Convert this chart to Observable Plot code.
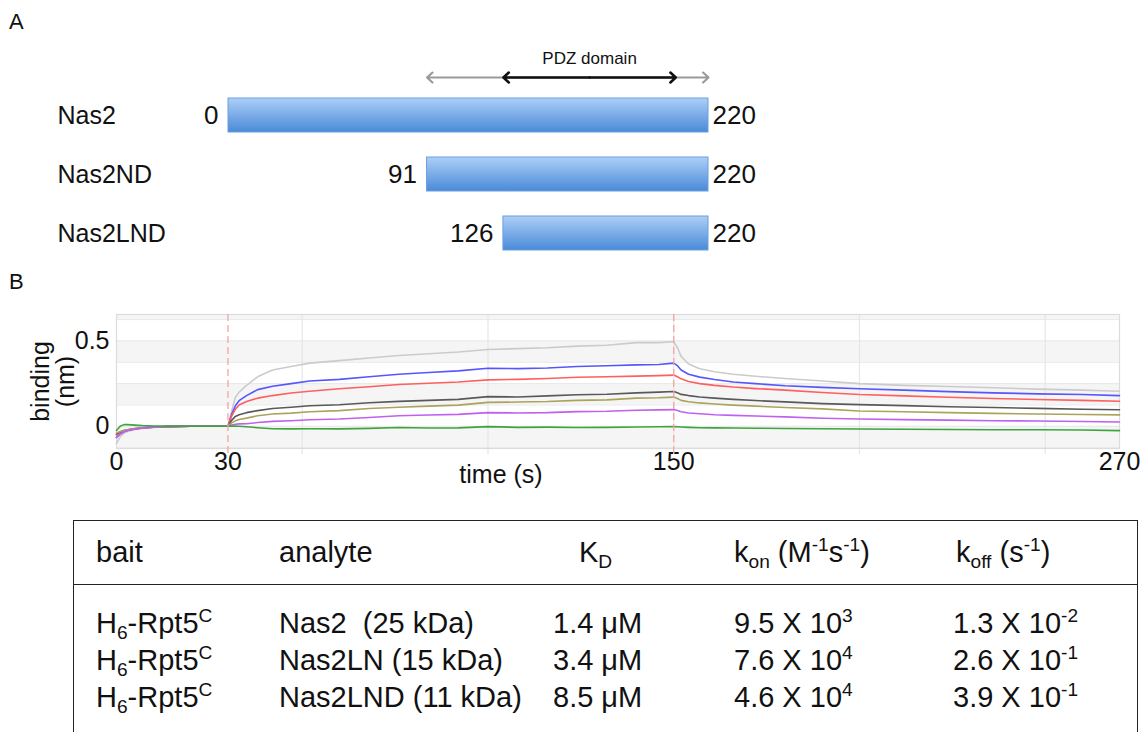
<!DOCTYPE html>
<html><head><meta charset="utf-8">
<script src="https://cdn.jsdelivr.net/npm/d3@7"></script>
<script src="https://cdn.jsdelivr.net/npm/@observablehq/plot@0.6"></script>
<style>
html,body{margin:0;padding:0;background:#fff;}
body{width:1145px;height:732px;overflow:hidden;position:relative;font-family:"Liberation Sans",Arial,sans-serif;color:#111;}
.plabel{position:absolute;font-size:22px;line-height:22px;}
#panelA,#panelB{position:absolute;left:0;}
#panelA{top:0;} #panelB{top:290px;}
#tbl{position:absolute;left:73px;top:520px;width:1065px;height:240px;border:1.5px solid #222;border-bottom:none;box-sizing:border-box;font-size:29px;}
#thead{position:absolute;left:0;top:0;width:100%;height:63px;border-bottom:1.5px solid #222;}
.cell{position:absolute;white-space:pre;line-height:37px;}
.hcell{position:absolute;white-space:pre;line-height:63px;top:0;}
sub,sup{font-size:0.66em;line-height:0;}
sup{vertical-align:0.6em;}
sub{vertical-align:-0.32em;}
</style></head>
<body>
<div class="plabel" style="left:9px;top:11px">A</div>
<div class="plabel" style="left:9px;top:271px">B</div>
<div id="panelA"></div>
<div id="panelB"></div>
<div id="tbl"><div id="thead"></div></div>
<script>
// ---------- Panel A data ----------
const proteins = ["Nas2", "Nas2ND", "Nas2LND"];
const starts = [0, 91, 126];
const ends = [220, 220, 220];
const domainName = "PDZ domain";
const outerArrow = [91, 220];
const pdzArrow = [126, 205];

// ---------- Panel B data ----------
const times = [0,1,2,3,5,7,10,14,20,26,30,31,32,33,35,38,42,47,52,60,68,76,84,92,100,108,116,124,132,140,146,150,151,152,154,157,161,166,172,180,190,200,212,224,236,248,260,270];
const seriesNames = ["c1","c2","c3","c4","c5","c6","c7"];
const seriesColors = ["#cbcbcb","#5656ff","#ff5f5f","#595959","#aba35c","#c060ee","#3ea43e"];
const grayS = [-0.10,-0.06,-0.04,-0.03,-0.018,-0.012,-0.006,-0.003,0,0, 0,0.09,0.17,0.20,0.24,0.29,0.33,0.35,0.37,0.385, 0.40,0.415,0.425,0.435,0.45,0.455,0.46,0.47,0.475,0.49, 0.49,0.495,0.46,0.41,0.365,0.337,0.32,0.305,0.293,0.28, 0.265,0.25,0.24,0.233,0.226,0.218,0.212,0.205];
const blueS = [-0.065,-0.045,-0.032,-0.025,-0.016,-0.01,-0.005,-0.002,0,0, 0,0.07,0.12,0.15,0.18,0.215,0.235,0.25,0.265,0.275, 0.29,0.305,0.315,0.325,0.34,0.338,0.342,0.35,0.355,0.36, 0.362,0.37,0.355,0.33,0.305,0.288,0.274,0.26,0.25,0.238, 0.228,0.22,0.212,0.203,0.196,0.19,0.186,0.18];
const redS = [-0.05,-0.038,-0.028,-0.022,-0.015,-0.01,-0.005,-0.002,0,0, 0,0.06,0.10,0.125,0.145,0.165,0.18,0.195,0.205,0.22, 0.232,0.245,0.252,0.26,0.272,0.275,0.28,0.287,0.29,0.294, 0.297,0.30,0.29,0.278,0.262,0.25,0.24,0.23,0.221,0.212, 0.198,0.186,0.178,0.17,0.163,0.157,0.152,0.147];
const blackS = [-0.045,-0.033,-0.025,-0.02,-0.013,-0.008,-0.004,-0.001,0,0, 0,0.035,0.058,0.068,0.08,0.092,0.104,0.112,0.12,0.126, 0.138,0.146,0.152,0.158,0.174,0.172,0.178,0.185,0.188,0.196, 0.2,0.204,0.196,0.187,0.18,0.172,0.165,0.158,0.151,0.143, 0.133,0.127,0.121,0.115,0.11,0.105,0.1,0.097];
const oliveS = [-0.04,-0.03,-0.024,-0.02,-0.013,-0.008,-0.004,-0.001,0,0, 0,0.02,0.032,0.04,0.048,0.062,0.072,0.077,0.085,0.092, 0.104,0.112,0.118,0.124,0.14,0.142,0.145,0.152,0.155,0.165, 0.167,0.171,0.163,0.152,0.144,0.137,0.131,0.124,0.118,0.11, 0.102,0.09,0.085,0.08,0.076,0.072,0.069,0.067];
const purpleS = [-0.065,-0.045,-0.032,-0.025,-0.016,-0.01,-0.005,-0.002,0,0, 0,0.008,0.012,0.014,0.015,0.022,0.029,0.033,0.038,0.043, 0.052,0.062,0.066,0.07,0.08,0.078,0.08,0.086,0.088,0.094, 0.096,0.098,0.093,0.085,0.078,0.074,0.068,0.064,0.06,0.055, 0.047,0.043,0.039,0.036,0.033,0.031,0.028,0.025];
const greenS = [-0.025,0,0.01,0.01,0.007,0.004,0.002,0.001,0,0, 0,0.002,0.001,0,-0.003,-0.008,-0.014,-0.015,-0.014,-0.015, -0.012,-0.007,-0.01,-0.009,-0.002,-0.006,-0.005,-0.007,-0.006,-0.004, -0.003,-0.002,-0.003,-0.004,-0.006,-0.008,-0.009,-0.01,-0.011,-0.013, -0.014,-0.016,-0.017,-0.019,-0.02,-0.02,-0.022,-0.025];
const eventTimes = [30, 150];
const xTicks = [0, 30, 150, 270];
const yTicks = [0, 0.5];
const gridTimes = [50, 100, 150, 200, 250];
const gridValues = [-0.125, 0, 0.125, 0.25, 0.375, 0.5, 0.625];
const bandLows = [-0.125, 0.125, 0.375, 0.625];
const bandHighs = [0, 0.25, 0.5, 0.75];
const xLabel = "time (s)";
const yLabel = "binding\n(nm)";

// ---------- Table data ----------
const headers = ["bait", "analyte", "K<sub>D</sub>", "k<sub>on</sub> (M<sup>-1</sup>s<sup>-1</sup>)", "k<sub>off</sub> (s<sup>-1</sup>)"];
const baits = ["H<sub>6</sub>-Rpt5<sup>C</sup>", "H<sub>6</sub>-Rpt5<sup>C</sup>", "H<sub>6</sub>-Rpt5<sup>C</sup>"];
const analytes = ["Nas2  (25 kDa)", "Nas2LN (15 kDa)", "Nas2LND (11 kDa)"];
const kdValues = ["1.4", "3.4", "8.5"];
const kdUnit = "\u03bcM";
const konMant = ["9.5", "7.6", "4.6"];
const konExp = ["3", "4", "4"];
const koffMant = ["1.3", "2.6", "3.9"];
const koffExp = ["-2", "-1", "-1"];

const font = "'Liberation Sans', Arial, sans-serif";

// ---------- Panel A ----------
const constructs = proteins.map((name, i) => ({name, start: starts[i], end: ends[i]}));
// each double-headed arrow is drawn as two arrows leaving its midpoint
const halfArrows = (span, color, w) => {
  const mid = (span[0] + span[1]) / 2;
  return [{from: mid, to: span[0], color, w}, {from: mid, to: span[1], color, w}];
};
const grayHalves = halfArrows(outerArrow, "#9a9a9a", 2.2);
const pdzHalves = halfArrows(pdzArrow, "#111111", 2.6);
const chartA = Plot.plot({
  width: 1145, height: 280,
  marginLeft: 228, marginRight: 437, marginTop: 73, marginBottom: 5,
  x: {domain: [0, 220], axis: null},
  y: {domain: proteins, axis: null, padding: 0.42},
  style: {fontFamily: font, fontSize: "25px", color: "#111", background: "transparent", overflow: "visible"},
  marks: [
    Plot.barX(constructs, {x1: "start", x2: "end", y: "name", fill: "url(#barGrad)", stroke: "#6b9fdc", strokeWidth: 1}),
    Plot.text(constructs, {y: "name", text: "name", frameAnchor: "left", dx: -171, textAnchor: "start", fill: "#111"}),
    Plot.text(constructs, {x: "start", y: "name", text: d => String(d.start), dx: -10, textAnchor: "end", fill: "#111", fontSize: 26}),
    Plot.text(constructs, {x: "end", y: "name", text: d => String(d.end), dx: 4, textAnchor: "start", fill: "#111", fontSize: 26}),
    Plot.arrow(grayHalves, {x1: "from", x2: "to", y1: () => proteins[0], y2: () => proteins[0], dy: -38, stroke: "color", strokeWidth: "w", headLength: 11, headAngle: 85}),
    Plot.arrow(pdzHalves, {x1: "from", x2: "to", y1: () => proteins[0], y2: () => proteins[0], dy: -38, stroke: "color", strokeWidth: "w", headLength: 11, headAngle: 85}),
    Plot.text([domainName], {x: () => (pdzArrow[0] + pdzArrow[1]) / 2, y: () => proteins[0], text: d => d, dy: -57, fontSize: 17, fill: "#111"})
  ]
});
d3.select(chartA).insert("defs", ":first-child").html(
  '<linearGradient id="barGrad" x1="0" y1="0" x2="0" y2="1"><stop offset="0" stop-color="#adcff7"/><stop offset="1" stop-color="#4a8ad8"/></linearGradient>');
document.getElementById("panelA").appendChild(chartA);

// ---------- Panel B ----------
const seriesValues = [grayS, blueS, redS, blackS, oliveS, purpleS, greenS];
const rows = seriesNames.flatMap((s, k) => times.map((t, i) => ({series: s, t, v: seriesValues[k][i]})));
const bands = bandLows.map((lo, i) => ({lo, hi: bandHighs[i]}));
const chartB = Plot.plot({
  width: 1145, height: 210,
  marginLeft: 116, marginRight: 26, marginTop: 24, marginBottom: 52,
  x: {domain: [0, 270], ticks: xTicks, tickSize: 0, tickPadding: 4, label: null, tickFormat: d => String(d)},
  y: {domain: [-0.13, 0.655], ticks: yTicks, tickSize: 0, tickPadding: 7, label: null, tickFormat: d => String(d)},
  color: {domain: seriesNames, range: seriesColors},
  style: {fontFamily: font, fontSize: "25px", color: "#111", background: "transparent", overflow: "visible"},
  marks: [
    Plot.rectY(bands, {y1: "lo", y2: "hi", fill: "#f5f5f5", clip: true}),
    Plot.ruleY(gridValues, {stroke: "#e8e8e8", strokeWidth: 1}),
    Plot.ruleX(gridTimes, {stroke: "#e6e6e6", strokeWidth: 1.2, insetBottom: -6}),
    Plot.frame({stroke: "#dcdcdc", strokeWidth: 1.2}),
    Plot.line(rows, {x: "t", y: "v", z: "series", stroke: "series", strokeWidth: 1.6, strokeLinejoin: "round"}),
    Plot.ruleX(eventTimes, {stroke: "#f5a3a3", strokeWidth: 1.3, strokeDasharray: "7,4", insetBottom: -6}),
    Plot.text([xLabel], {frameAnchor: "bottom", text: d => d, dx: -117, dy: 34, fontSize: 25, fill: "#111"}),
    Plot.text([yLabel], {frameAnchor: "left", textAnchor: "middle", text: d => d, dx: -63, rotate: -90, fontSize: 25, lineHeight: 1.0, fill: "#111"})
  ]
});
document.getElementById("panelB").appendChild(chartB);

// ---------- Table ----------
const headLeft = [22, 205, 505, 660, 882];
const valLeft = [22, 205, 479, 660, 879];
const thead = document.getElementById("thead");
headers.forEach((h, j) => {
  const d = document.createElement("div");
  d.className = "hcell"; d.style.left = headLeft[j] + "px"; d.innerHTML = h;
  thead.appendChild(d);
});
const tbl = document.getElementById("tbl");
baits.forEach((b, i) => {
  const vals = [b, analytes[i], kdValues[i] + " " + kdUnit,
    konMant[i] + " X 10<sup>" + konExp[i] + "</sup>",
    koffMant[i] + " X 10<sup>" + koffExp[i] + "</sup>"];
  vals.forEach((v, j) => {
    const d = document.createElement("div");
    d.className = "cell"; d.style.left = valLeft[j] + "px"; d.style.top = (84 + i * 37) + "px";
    d.innerHTML = v;
    tbl.appendChild(d);
  });
});
</script>
</body></html>
